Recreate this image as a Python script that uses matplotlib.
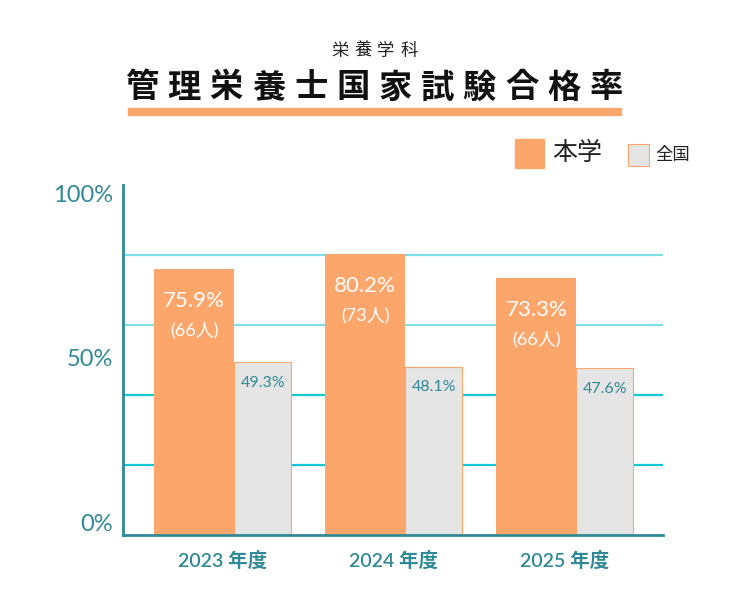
import matplotlib
matplotlib.use("Agg")
import matplotlib.pyplot as plt
from matplotlib.patches import Rectangle

plt.rcParams['font.family'] = ['Lato', 'Noto Sans CJK JP', 'DejaVu Sans']

# データ
years = ["2023 年度", "2024 年度", "2025 年度"]
school_rate = [75.9, 80.2, 73.3]
school_count = [66, 73, 66]
national_rate = [49.3, 48.1, 47.6]

subtitle = "栄養学科"
title = "管理栄養士国家試験合格率"

ORANGE = "#fda66b"
GREY = "#e5e5e5"
TEAL = "#2f8996"
GRID_LIGHT = "#7fdfe6"
GRID_DARK = "#13c8d6"
W, H = 747, 608


def spaced_text(s, cx, cy, pitch, **kw):
    # 字間をあけて1文字ずつ置く
    start = cx - pitch * (len(s) - 1) / 2
    for k, ch in enumerate(s):
        fig.text((start + k * pitch) / W, 1 - cy / H, ch, ha='center', va='center', **kw)


fig = plt.figure(figsize=(7.47, 6.08), dpi=100)
ax = fig.add_axes([123 / W, 73 / H, 540 / W, 350 / H])

x = list(range(len(years)))
w_school = 0.468
w_nat = 0.333
left_school = [i - 0.4 for i in x]
left_nat = [i - 0.4 + w_school for i in x]

# グリッド線
for g in [20, 40, 60, 80]:
    ax.axhline(g, color=GRID_LIGHT if g > 50 else GRID_DARK, lw=1.6, zorder=1)

ax.bar(left_school, school_rate, width=w_school, align='edge', color=ORANGE, zorder=2)
ax.bar(left_nat, national_rate, width=w_nat, align='edge', color=GREY,
       edgecolor=ORANGE, linewidth=0.8, zorder=2)

for i in x:
    cx = left_school[i] + w_school / 2
    ax.annotate(f"{school_rate[i]}%", (cx, school_rate[i]), xytext=(0, -22.5),
                textcoords='offset points', ha='center', va='center',
                color='white', fontsize=16, zorder=3)
    ax.annotate(f"({school_count[i]}人)", (cx, school_rate[i]), xytext=(0, -43.5),
                textcoords='offset points', ha='center', va='center',
                color='white', fontsize=13, zorder=3)
    nx = left_nat[i] + w_nat / 2
    ax.annotate(f"{national_rate[i]}%", (nx, national_rate[i]), xytext=(0, -15),
                textcoords='offset points', ha='center', va='center',
                color=TEAL, fontsize=11.5, zorder=3)

ax.set_xlim(-0.582, 2.575)
ax.set_ylim(0, 100)

for s in ['top', 'right']:
    ax.spines[s].set_visible(False)
for s in ['left', 'bottom']:
    ax.spines[s].set_color(TEAL)
    ax.spines[s].set_linewidth(2)
    ax.spines[s].set_zorder(4)

ax.set_yticks([0, 50, 100])
ax.set_yticklabels(["0%", "50%", "100%"])
ax.tick_params(axis='y', length=0, pad=7, labelsize=17, labelcolor=TEAL)
for lab, va in zip(ax.get_yticklabels(), ['bottom', 'center', 'top']):
    lab.set_verticalalignment(va)

ax.set_xticks(x)
ax.set_xticklabels(years)
ax.tick_params(axis='x', length=0, pad=11, labelsize=14, labelcolor=TEAL)
for lab in ax.get_xticklabels():
    lab.set_fontweight('semibold')

# タイトル
spaced_text(subtitle, 374.5, 51, 23, fontsize=12.5, color='#222222',
            family=['Noto Sans CJK JP'])
spaced_text(title, 374, 88, 42.2, fontsize=24, fontweight='bold', color='#111111',
            family=['Noto Sans CJK JP'])
fig.patches.append(Rectangle((128 / W, 1 - 115 / H), 493 / W, 7 / H,
                             transform=fig.transFigure, color=ORANGE))

# 凡例
fig.patches.append(Rectangle((515 / W, 1 - 168 / H), 29 / W, 29 / H,
                             transform=fig.transFigure, color=ORANGE))
fig.text(552 / W, 1 - 153 / H, "本学", ha='left', va='center', fontsize=18,
         color='#222222', family=['Noto Sans CJK JP'])
fig.patches.append(Rectangle((628 / W, 1 - 166 / H), 21 / W, 22 / H,
                             transform=fig.transFigure, facecolor=GREY,
                             edgecolor=ORANGE, linewidth=0.8))
fig.text(655 / W, 1 - 155 / H, "全国", ha='left', va='center', fontsize=12.5,
         color='#222222', family=['Noto Sans CJK JP'])

fig.savefig("out.png", dpi=100)
